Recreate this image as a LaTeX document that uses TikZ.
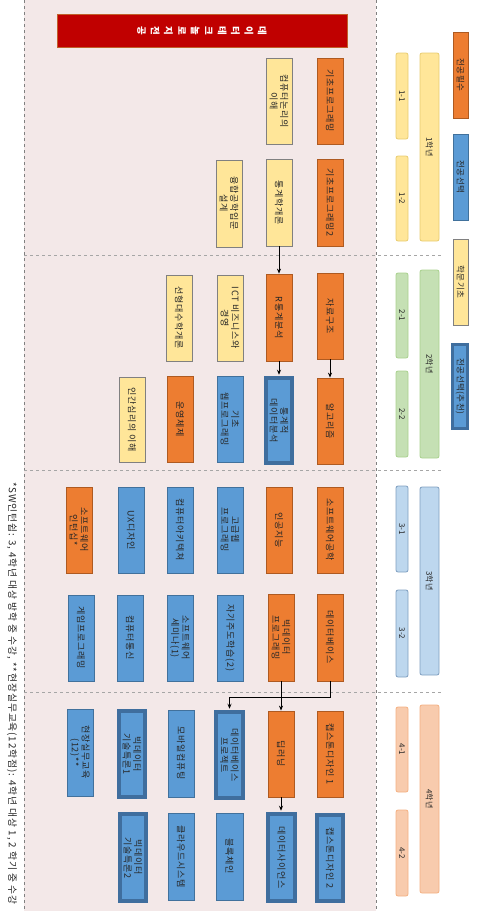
\documentclass[tikz,border=0pt]{standalone}
\usepackage{fontspec}
\setmainfont{Noto Sans CJK KR}
\usetikzlibrary{arrows.meta}
\definecolor{cOr}{HTML}{ED7D31}
\definecolor{cOrD}{HTML}{AE5A21}
\definecolor{cBl}{HTML}{5B9BD5}
\definecolor{cBlD}{HTML}{41719C}
\definecolor{cThk}{HTML}{3F6E9E}
\definecolor{cYe}{HTML}{FFE699}
\definecolor{cGy}{HTML}{808080}
\definecolor{cPanel}{HTML}{F3E8E8}
\definecolor{cTitle}{HTML}{C00000}
\definecolor{cTitleD}{HTML}{C0602A}
\definecolor{cY1}{HTML}{FFE699}
\definecolor{cY1D}{HTML}{E8CC70}
\definecolor{cY2}{HTML}{C5E0B4}
\definecolor{cY2D}{HTML}{A9D18E}
\definecolor{cY3}{HTML}{BDD7EE}
\definecolor{cY3D}{HTML}{7F9FC0}
\definecolor{cY4}{HTML}{F8CBAD}
\definecolor{cY4D}{HTML}{F4B183}
\definecolor{cTxt}{HTML}{262626}
\tikzset{
  base/.style={rotate=-90, inner sep=0pt, align=center, text=cTxt,
    font=\fontsize{9}{10.5}\selectfont\addfontfeature{LetterSpace=8}},
  req/.style={base, fill=cOr, draw=cOrD, line width=0.8pt},
  sel/.style={base, fill=cBl, draw=cBlD, line width=0.8pt},
  fnd/.style={base, fill=cYe, draw=cGy, line width=0.8pt},
  rec/.style={base, fill=cBl, draw=cThk, line width=3.5pt},
  lg/.style={font=\fontsize{8.5}{9}\selectfont\addfontfeature{LetterSpace=5}},
  yrf/.style={font=\fontsize{8}{9}\selectfont},
  yr1/.style={base, fill=cY1, draw=cY1D, line width=0.8pt, rounded corners=2pt, yrf},
  yr2/.style={base, fill=cY2, draw=cY2D, line width=0.8pt, rounded corners=2pt, yrf},
  yr3/.style={base, fill=cY3, draw=cY3D, line width=0.8pt, rounded corners=2pt, yrf},
  yr4/.style={base, fill=cY4, draw=cY4D, line width=0.8pt, rounded corners=2pt, yrf},
  ttl/.style={base, fill=cTitle, draw=cTitleD, line width=1pt, text=white,
    font=\fontsize{9.5}{13.4}\selectfont\bfseries},
  arr/.style={draw=black, line width=0.8pt, -{Stealth[length=5pt,width=4pt]}},
  sep/.style={draw=gray!70, dashed, line width=0.5pt},
  note/.style={rotate=-90, inner sep=0pt, text=cTxt,
    font=\fontsize{9.8}{10}\selectfont\addfontfeature{LetterSpace=9}}
}
\newcommand{\cbox}[7]{\node[#2, minimum width={(#6-#4)*1pt}, minimum height={(#5-#3)*1pt}] (#1) at ({(#3+#5)/2},{(#4+#6)/2}) {#7};}
\begin{document}
\begin{tikzpicture}[x=1pt,y=-1pt]
\useasboundingbox (0,0) rectangle (479,911);
% panel
\fill[cPanel] (24,0) rectangle (376,911);
\draw[draw=gray, dashed, line width=0.5pt] (24,0) -- (24,911);
\draw[draw=gray, dashed, line width=0.5pt] (376,0) -- (376,911);
\draw[sep] (24,255) -- (443,255);
\draw[sep] (24,470) -- (443,470);
\draw[sep] (24,692) -- (443,692);
% title
\cbox{title}{ttl}{57}{14}{347}{47}{데\\이\\터\\테\\크\\놀\\로\\지\\전\\공}
% year 1
\cbox{c11}{req}{317}{58}{343}{144}{기초프로그래밍}
\cbox{c12}{fnd}{266}{58}{292}{144}{컴퓨터논리의\\이해}
\cbox{c13}{req}{317}{159}{343}{246}{기초프로그래밍2}
\cbox{c14}{fnd}{266}{159}{292}{246}{통계학개론}
\cbox{c15}{fnd}{216}{160}{242}{247}{융합공학입문\\설계}
% year 2
\cbox{c21}{req}{317}{273}{343}{359}{자료구조}
\cbox{c22}{req}{266}{274}{292}{361}{R통계분석}
\cbox{c23}{fnd}{217}{275}{243}{361}{ICT 비즈니스와\\경영}
\cbox{c24}{fnd}{166}{275}{192}{361}{선형대수학개론}
\cbox{c25}{req}{317}{378}{343}{464}{알고리즘}
\cbox{c26}{rec}{266}{378}{292}{463}{통계적\\데이터분석}
\cbox{c27}{sel}{217}{376}{243}{462}{기초\\웹프로그래밍}
\cbox{c28}{req}{167}{376}{193}{462}{운영체제}
\cbox{c29}{fnd}{119}{377}{145}{462}{인간심리의 이해}
% year 3
\cbox{c31}{req}{317}{487}{343}{573}{소프트웨어공학}
\cbox{c32}{req}{266}{487}{292}{573}{인공지능}
\cbox{c33}{sel}{217}{487}{243}{573}{고급웹\\프로그래밍}
\cbox{c34}{sel}{167}{487}{193}{573}{컴퓨터아키텍쳐}
\cbox{c35}{sel}{118}{487}{144}{573}{UX디자인}
\cbox{c36}{req}{66}{487}{92}{573}{소프트웨어\\인턴십*}
\cbox{c37}{req}{317}{594}{343}{681}{데이터베이스}
\cbox{c38}{req}{268}{594}{294}{681}{빅데이터\\프로그래밍}
\cbox{c39}{sel}{217}{595}{243}{681}{자기주도학습(2)}
\cbox{c3a}{sel}{167}{595}{193}{681}{소프트웨어\\세미나(1)}
\cbox{c3b}{sel}{117}{595}{143}{681}{컴퓨터통신}
\cbox{c3c}{sel}{68}{595}{94}{681}{게임프로그래밍}
% year 4
\cbox{c41}{req}{317}{711}{343}{797}{캡스톤디자인 1}
\cbox{c42}{req}{268}{711}{294}{797}{딥러닝}
\cbox{c43}{rec}{216}{712}{243}{798}{데이터베이스\\프로젝트}
\cbox{c44}{sel}{168}{710}{194}{797}{모바일컴퓨팅}
\cbox{c45}{rec}{119}{711}{145}{797}{빅데이터\\기술특론1}
\cbox{c46}{sel}{67}{709}{93}{796}{현장실무교육\\(12)**}
\cbox{c47}{rec}{317}{815}{343}{901}{캡스톤디자인 2}
\cbox{c48}{rec}{268}{814}{295}{901}{데이터사이언스}
\cbox{c49}{sel}{216}{813}{243}{900}{블록체인}
\cbox{c4a}{sel}{168}{813}{194}{900}{클라우드시스템}
\cbox{c4b}{rec}{120}{814}{146}{901}{빅데이터\\기술특론2}
% arrows
\draw[arr] (c14.east) -- (c14.east |- c22.west);
\draw[arr, shorten >=1.5pt] (c22.east) -- (c22.east |- c26.west);
\draw[arr] (c21.east) -- (c21.east |- c25.west);
\draw[arr] (c38.east) -- (c38.east |- c42.west);
\draw[arr, shorten >=1.5pt] (c42.east) -- (c42.east |- c48.west);
\draw[arr, shorten >=1.5pt] (c37.east) -- ++(0,16) -| (c43.west);
% legend
\cbox{lg1}{req,lg}{453}{32}{468}{118}{전공필수}
\cbox{lg2}{sel,lg}{453}{134}{468}{220}{전공선택}
\cbox{lg3}{fnd,lg}{453}{239}{468}{325}{학문기초}
\cbox{lg4}{rec,lg,line width=3pt}{452.5}{344.5}{467.5}{428.5}{전공선택(추천)}
% year bars
\cbox{y1}{yr1}{420}{53}{439}{241}{1학년}
\cbox{y11}{yr1}{396}{53}{408}{139}{1-1}
\cbox{y12}{yr1}{396}{156}{408}{241}{1-2}
\cbox{y2}{yr2}{420}{270}{439}{458}{2학년}
\cbox{y21}{yr2}{396}{273}{408}{358}{2-1}
\cbox{y22}{yr2}{396}{371}{408}{457}{2-2}
\cbox{y3}{yr3}{420}{487}{439}{675}{3학년}
\cbox{y31}{yr3}{396}{486}{408}{572}{3-1}
\cbox{y32}{yr3}{396}{590}{408}{677}{3-2}
\cbox{y4}{yr4}{420}{705}{439}{893}{4학년}
\cbox{y41}{yr4}{396}{707}{408}{792}{4-1}
\cbox{y42}{yr4}{396}{810}{408}{896}{4-2}
% footnote
\node[note, anchor=west] (fn) at (12,482) {*SW인턴쉽: 3, 4학년 대상 방학 중 수강, **현장실무교육(12학점): 4학년 대상 1, 2 학기 중 수강};
\end{tikzpicture}
\end{document}
